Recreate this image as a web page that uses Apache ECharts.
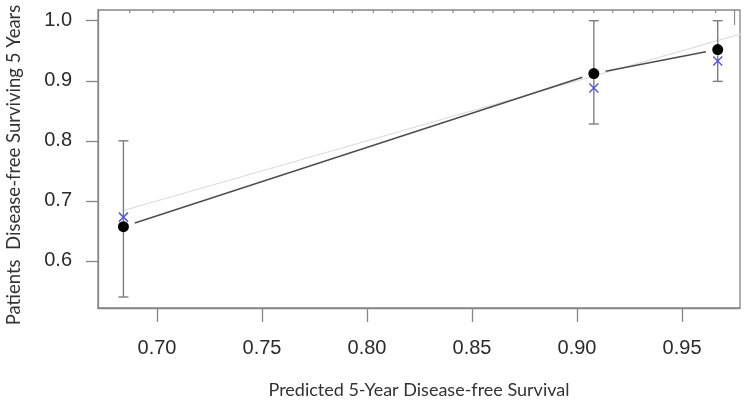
<!DOCTYPE html>
<html>
<head>
<meta charset="utf-8">
<script src="https://cdn.jsdelivr.net/npm/echarts@6/dist/echarts.min.js"></script>
<style>
  html, body { margin: 0; padding: 0; background: #fff; }
  #calib { width: 750px; height: 401px; }
</style>
</head>
<body>
<div id="calib"></div>
<script>
  // values
  const predicted = [0.684, 0.908, 0.967];     // x of each group
  const observed = [0.657, 0.912, 0.952];      // black dots
  const corrected = [0.673, 0.888, 0.933];     // blue crosses
  const ciLower = [0.540, 0.828, 0.899];
  const ciUpper = [0.800, 1.000, 1.000];
  const xTicks = [0.70, 0.75, 0.80, 0.85, 0.90, 0.95];
  const yTicks = [0.6, 0.7, 0.8, 0.9, 1.0];
  // rug of predicted values along the top edge (relative count)
  const rugX = [0.687, 0.698, 0.708, 0.727, 0.736, 0.746, 0.755, 0.765, 0.784, 0.793,
    0.803, 0.812, 0.822, 0.831, 0.841, 0.851, 0.860, 0.870, 0.879, 0.889, 0.898,
    0.908, 0.917, 0.927, 0.936, 0.946, 0.955, 0.966, 0.975];
  const rugCount = [1, 1, 1, 1, 1, 1, 1, 1, 1, 1, 1, 1, 1, 1, 1, 1, 1, 1, 1, 1, 1,
    1, 1, 1, 1, 1, 1, 1, 5];

  const xMin = 0.6719, xMax = 0.9776;
  const yMin = 0.5217, yMax = 1.0178;

  const segs = [];
  for (let i = 0; i < predicted.length - 1; i++) {
    segs.push([predicted[i], observed[i], predicted[i + 1], observed[i + 1]]);
  }

  const gray = '#868686';
  const labelFont = { fontFamily: 'Liberation Sans', fontSize: 20, color: '#2b2b2b' };

  const chart = echarts.init(document.getElementById('calib'));
  const option = {
    animation: false,
    grid: {
      left: 98, right: 10, top: 10, bottom: 93,
      outerBoundsMode: 'none',
      show: true, borderColor: gray, borderWidth: 1.3
    },
    xAxis: {
      type: 'value', min: xMin, max: xMax,
      name: 'Predicted 5-Year Disease-free Survival',
      nameLocation: 'middle', nameGap: 73,
      nameTextStyle: { fontFamily: 'Lato', fontSize: 18, color: '#333' },
      axisLine: { show: true, onZero: false, lineStyle: { color: gray, width: 1.3 } },
      axisTick: { show: true, length: 14, customValues: xTicks, lineStyle: { color: gray, width: 1.3 } },
      axisLabel: Object.assign({ customValues: xTicks, margin: 30, formatter: v => v.toFixed(2) }, labelFont),
      splitLine: { show: false }
    },
    yAxis: {
      type: 'value', min: yMin, max: yMax,
      name: 'Patients  Disease-free Surviving 5 Years',
      nameLocation: 'middle', nameGap: 74,
      nameTextStyle: { fontFamily: 'Lato', fontSize: 18.5, color: '#333', padding: [0, 12, 0, 0] },
      axisLine: { show: true, onZero: false, lineStyle: { color: gray, width: 1.3 } },
      axisTick: { show: true, length: 12, customValues: yTicks, lineStyle: { color: gray, width: 1.3 } },
      axisLabel: Object.assign({ customValues: yTicks, margin: 26, formatter: v => v.toFixed(1) }, labelFont),
      splitLine: { show: false }
    },
    series: [
      {
        // ideal line
        type: 'line', clip: true, symbol: 'none',
        data: [[predicted[0], predicted[0]], [1.0, 1.0]],
        lineStyle: { color: '#dcdcdc', width: 1.2 },
        z: 1
      },
      {
        // rug along top
        type: 'custom', clip: true,
        data: rugX.map((x, i) => [x, rugCount[i]]),
        encode: { x: 0 },
        renderItem: (params, api) => {
          const p = api.coord([api.value(0), yMax]);
          return {
            type: 'line',
            shape: { x1: p[0], y1: p[1], x2: p[0], y2: p[1] + 3 * api.value(1) },
            style: { stroke: '#8c8c8c', lineWidth: 1.2 }
          };
        },
        z: 2
      },
      {
        // error bars
        type: 'custom',
        data: predicted.map((x, i) => [x, ciLower[i], ciUpper[i]]),
        encode: { x: 0, y: [1, 2] },
        renderItem: (params, api) => {
          const lo = api.coord([api.value(0), api.value(1)]);
          const hi = api.coord([api.value(0), api.value(2)]);
          const w = 5;
          const st = { stroke: '#7d7d7d', lineWidth: 1.4 };
          return {
            type: 'group',
            children: [
              { type: 'line', shape: { x1: lo[0], y1: lo[1], x2: hi[0], y2: hi[1] }, style: st },
              { type: 'line', shape: { x1: lo[0] - w, y1: lo[1], x2: lo[0] + w, y2: lo[1] }, style: st },
              { type: 'line', shape: { x1: hi[0] - w, y1: hi[1], x2: hi[0] + w, y2: hi[1] }, style: st }
            ]
          };
        },
        z: 3
      },
      {
        // observed line with gaps around points
        type: 'custom',
        data: segs,
        encode: { x: [0, 2], y: [1, 3] },
        renderItem: (params, api) => {
          const a = api.coord([api.value(0), api.value(1)]);
          const b = api.coord([api.value(2), api.value(3)]);
          const dx = b[0] - a[0], dy = b[1] - a[1];
          const len = Math.sqrt(dx * dx + dy * dy);
          const g = 12;
          const ux = dx / len, uy = dy / len;
          return {
            type: 'line',
            shape: { x1: a[0] + ux * g, y1: a[1] + uy * g, x2: b[0] - ux * g, y2: b[1] - uy * g },
            style: { stroke: '#4d4d4d', lineWidth: 1.5 }
          };
        },
        z: 4
      },
      {
        // blue crosses
        type: 'custom',
        data: predicted.map((x, i) => [x, corrected[i]]),
        encode: { x: 0, y: 1 },
        renderItem: (params, api) => {
          const p = api.coord([api.value(0), api.value(1)]);
          const s = 4.5;
          const st = { stroke: '#5a5ad8', lineWidth: 1.5 };
          return {
            type: 'group',
            children: [
              { type: 'line', shape: { x1: p[0] - s, y1: p[1] - s, x2: p[0] + s, y2: p[1] + s }, style: st },
              { type: 'line', shape: { x1: p[0] - s, y1: p[1] + s, x2: p[0] + s, y2: p[1] - s }, style: st }
            ]
          };
        },
        z: 5
      },
      {
        // observed points
        type: 'scatter',
        data: predicted.map((x, i) => [x, observed[i]]),
        symbol: 'circle', symbolSize: 11,
        itemStyle: { color: '#000', opacity: 1 },
        z: 6
      }
    ]
  };
  chart.setOption(option);
</script>
</body>
</html>
